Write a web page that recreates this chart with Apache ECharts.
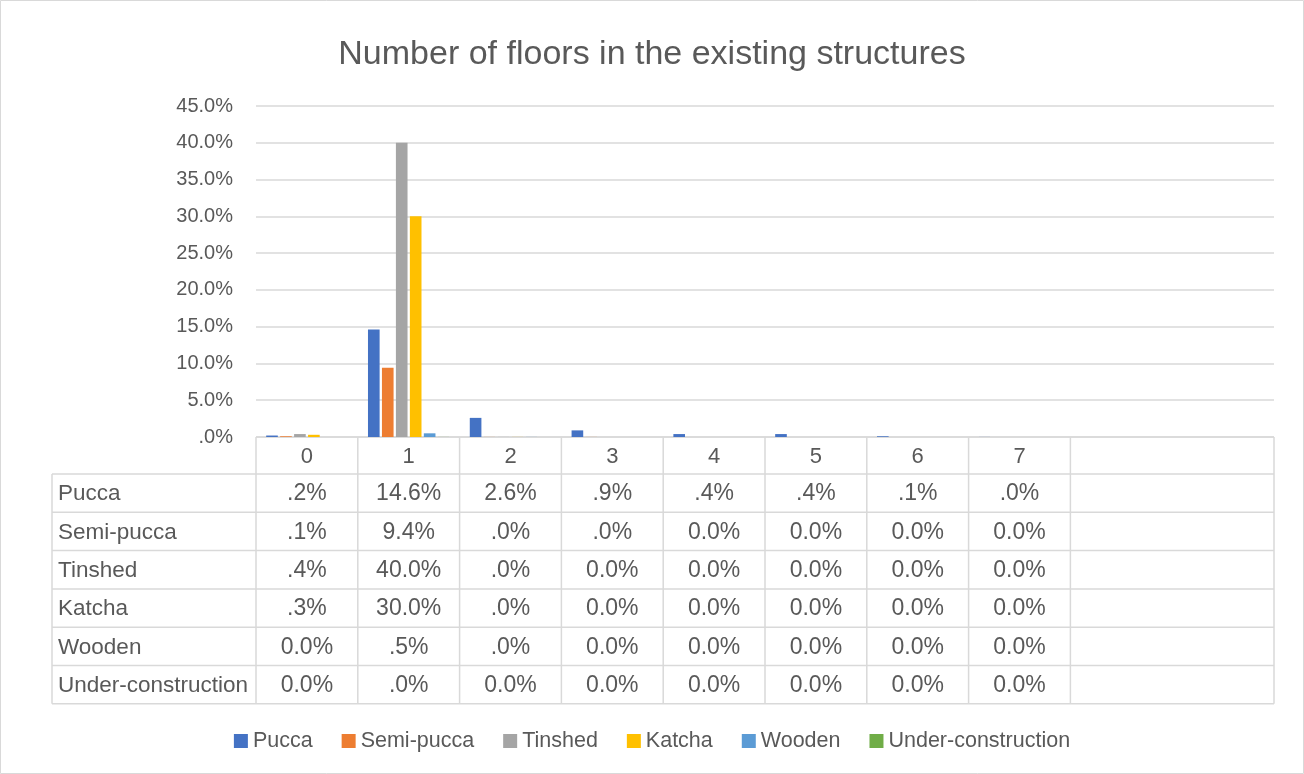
<!DOCTYPE html>
<html>
<head>
<meta charset="utf-8">
<script src="https://cdn.jsdelivr.net/npm/echarts@6/dist/echarts.min.js"></script>
<style>
html,body{margin:0;padding:0;background:#fff;}
#c{width:1304px;height:774px;}
</style>
</head>
<body>
<div id="c"></div>
<script>
// ---- data ----
const categories = ['0', '1', '2', '3', '4', '5', '6', '7', '', ''];
const seriesNames = ['Pucca', 'Semi-pucca', 'Tinshed', 'Katcha', 'Wooden', 'Under-construction'];
// values in percent; 0.01 marks a tiny non-zero share shown as ".0%"
const pucca             = [0.2, 14.6, 2.6, 0.9, 0.4, 0.4, 0.1, 0.01];
const semiPucca         = [0.1, 9.4, 0.01, 0.01, 0, 0, 0, 0];
const tinshed           = [0.4, 40.0, 0.01, 0, 0, 0, 0, 0];
const katcha            = [0.3, 30.0, 0.01, 0, 0, 0, 0, 0];
const wooden            = [0, 0.5, 0.01, 0, 0, 0, 0, 0];
const underConstruction = [0, 0.01, 0, 0, 0, 0, 0, 0];
const yTicks = [0, 5, 10, 15, 20, 25, 30, 35, 40, 45];

const seriesData = [pucca, semiPucca, tinshed, katcha, wooden, underConstruction];
const colors = ['#4472C4', '#ED7D31', '#A5A5A5', '#FFC000', '#5B9BD5', '#70AD47'];

function fmtPct(v) {
  if (v === 0) return '0.0%';
  const s = v.toFixed(1);
  return (s.startsWith('0') ? s.slice(1) : s) + '%';
}

const GRID_L = 256, GRID_R = 1274, GRID_T = 106, GRID_B = 437;
const catW = (GRID_R - GRID_L) / categories.length;
const HEADER_H = 37;
const ROW_H = 38.3;
const LABEL_X = 52;
const TXT = '#595959';
const LINE = '#d9d9d9';
const FONT = '"Liberation Sans", Arial, sans-serif';

const graphics = [];
// outer border
graphics.push({type:'rect', shape:{x:0.5,y:0.5,width:1303,height:773}, style:{fill:'none', stroke:LINE, lineWidth:1}, silent:true});
const tableTop = GRID_B;
const rowsTop = tableTop + HEADER_H;
const tableBottom = rowsTop + ROW_H * seriesNames.length;
graphics.push({type:'line', shape:{x1:GRID_L,y1:tableTop,x2:GRID_R,y2:tableTop}, style:{stroke:LINE,lineWidth:1.5}});
for (let r = 0; r <= seriesNames.length; r++) {
  const y = rowsTop + r * ROW_H;
  graphics.push({type:'line', shape:{x1:LABEL_X,y1:y,x2:GRID_R,y2:y}, style:{stroke:LINE,lineWidth:1.5}});
}
graphics.push({type:'line', shape:{x1:LABEL_X,y1:rowsTop,x2:LABEL_X,y2:tableBottom}, style:{stroke:LINE,lineWidth:1.5}});
const nData = pucca.length;
for (let k = 0; k <= nData; k++) {
  const x = GRID_L + k * catW;
  graphics.push({type:'line', shape:{x1:x,y1:tableTop,x2:x,y2:tableBottom}, style:{stroke:LINE,lineWidth:1.5}});
}
graphics.push({type:'line', shape:{x1:GRID_R,y1:tableTop,x2:GRID_R,y2:tableBottom}, style:{stroke:LINE,lineWidth:1.5}});
for (let k = 0; k < categories.length; k++) {
  if (!categories[k]) continue;
  graphics.push({type:'text', x:GRID_L + (k + 0.5) * catW, y:tableTop + HEADER_H / 2 + 1,
    style:{text:categories[k], fill:TXT, font:'22px ' + FONT, textAlign:'center', textVerticalAlign:'middle'}});
}
seriesNames.forEach((name, r) => {
  const yc = rowsTop + (r + 0.5) * ROW_H + 1;
  graphics.push({type:'text', x:LABEL_X + 6, y:yc,
    style:{text:name, fill:TXT, font:'22.5px ' + FONT, textAlign:'left', textVerticalAlign:'middle'}});
  seriesData[r].forEach((v, k) => {
    graphics.push({type:'text', x:GRID_L + (k + 0.5) * catW, y:yc,
      style:{text:fmtPct(v), fill:TXT, font:'23px ' + FONT, textAlign:'center', textVerticalAlign:'middle'}});
  });
});

const chart = echarts.init(document.getElementById('c'), null, {renderer:'canvas'});
chart.setOption({
  animation: false,
  backgroundColor: '#fff',
  color: colors,
  title: {
    text: 'Number of floors in the existing structures',
    left: 'center', top: 33,
    textStyle: {fontFamily: FONT, fontSize: 34, fontWeight: 'normal', color: TXT}
  },
  legend: {
    data: seriesNames,
    top: 725, left: 'center',
    icon: 'rect', itemWidth: 14, itemHeight: 14, itemGap: 29,
    textStyle: {fontFamily: FONT, fontSize: 21.5, color: TXT}
  },
  grid: {left: GRID_L, right: 1304 - GRID_R, top: GRID_T, bottom: 774 - GRID_B, containLabel: false},
  xAxis: {
    type: 'category', data: categories,
    axisLine: {show: false}, axisTick: {show: false}, axisLabel: {show: false}, splitLine: {show: false}
  },
  yAxis: {
    type: 'value', min: yTicks[0], max: yTicks[yTicks.length - 1], interval: 5,
    axisLine: {show: false}, axisTick: {show: false},
    axisLabel: {fontFamily: FONT, fontSize: 20, color: TXT, margin: 23, formatter: v => (v === 0 ? '.0%' : v.toFixed(1) + '%')},
    splitLine: {lineStyle: {color: LINE, width: 1.5}}
  },
  series: seriesNames.map((name, i) => ({
    name: name, type: 'bar', data: seriesData[i],
    barGap: '20%', barCategoryGap: '20%'
  })),
  graphic: graphics
});
</script>
</body>
</html>
